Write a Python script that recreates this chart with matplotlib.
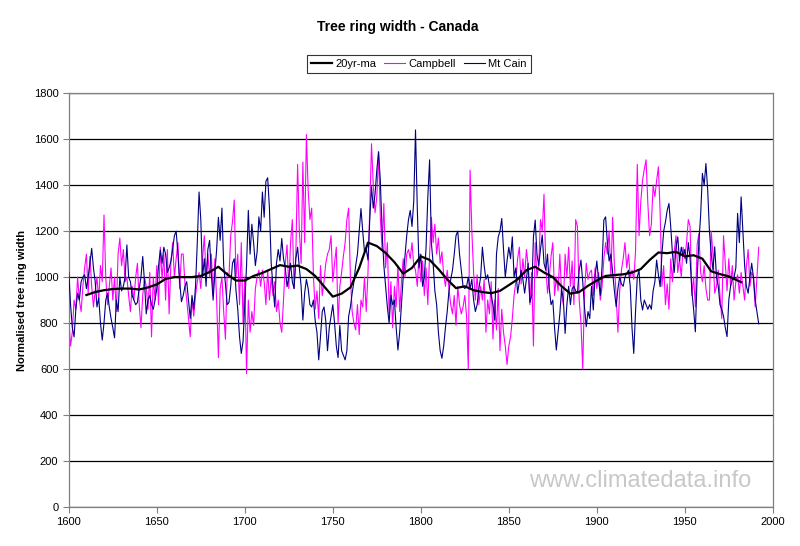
import numpy as np
import matplotlib

matplotlib.use("Agg")
import matplotlib.pyplot as plt

plt.rcParams["font.family"] = ["Liberation Sans", "DejaVu Sans"]

# annual values, 1600-1992
years = np.arange(1600, 1993)

campbell = [
    820, 700, 760, 900, 860, 1000, 900, 850, 960, 1040,
    1100, 930, 1090, 960, 870, 940, 1000, 900, 1050, 980,
    1270, 1000, 880, 960, 1040, 900, 1000, 850, 1100, 1170,
    1050, 1120, 980, 1000, 920, 850, 960, 900, 1000, 1060,
    880, 780, 920, 1000, 960, 860, 1020, 740, 1000, 900,
    1050, 880, 1130, 990, 1100, 900, 1120, 840, 1060, 1150,
    1000, 1080, 1150, 950, 1100, 1100, 970, 900, 820, 740,
    900, 830, 920, 980, 1020, 950, 1080, 1180, 1000, 1100,
    1000, 1100, 920, 1080, 900, 650, 950, 1000, 850, 730,
    1020, 1000, 1180, 1240, 1335, 1000, 1100, 880, 1150, 800,
    1000, 580, 900, 760, 850, 790, 950, 1000, 1030, 960,
    1030, 980, 880, 1030, 900, 1000, 920, 980, 850, 900,
    800, 760, 900, 1060, 1140, 950, 1150, 1250, 950, 1100,
    1490, 1200, 1060, 1500, 1150, 1620, 1380, 1250, 1300, 1000,
    860, 940, 820, 1050, 920, 980, 1060, 1100, 1120, 1180,
    980, 1060, 1130, 800, 960, 1020, 1090, 1150, 1250, 1300,
    1000, 850, 800, 770, 880, 750, 900, 870, 1000, 850,
    1020, 1300, 1580, 1400, 1280, 1350, 1545, 1260, 1120, 1320,
    1040, 1150, 840, 980, 780, 960, 870, 1050, 850, 980,
    1080, 1000, 1100, 1120, 1080, 1150, 1050, 1030, 960, 1100,
    980, 1070, 920, 1040, 880, 1100, 1260, 1150, 1230, 1100,
    1170, 1060, 1110, 1010, 960, 1030, 950, 880, 840, 920,
    790, 960, 880, 840, 870, 920, 830, 600, 1465, 1200,
    1020, 900, 1010, 880, 960, 900, 990, 760, 900, 840,
    980, 730, 900, 770, 950, 680, 860, 760, 700, 620,
    700, 740, 820, 920, 980, 1080, 1130, 970, 1080, 1000,
    1120, 1050, 880, 1020, 700, 1150, 1000, 1050, 1250, 1200,
    1360, 1050, 930, 1000, 1090, 1150, 920, 1000, 940, 1100,
    920, 880, 1100, 1000, 1130, 960, 1070, 880, 1250, 1220,
    900, 800, 600, 930, 1060, 990, 1020, 1030, 920, 1040,
    950, 1020, 900, 960, 1080, 1150, 1100, 1200, 1000, 1260,
    1050, 920, 760, 940, 1030, 1080, 1150, 1040, 1100, 1000,
    1030, 990, 1110, 1490, 1180, 1330, 1420, 1470, 1510, 1320,
    1180, 1230, 1400, 1350, 1420, 1480, 1280, 960, 1050, 880,
    970, 860, 1080, 980, 1110, 1180, 1020, 1080, 1000, 1130,
    1080, 1150, 1250, 1220, 920, 1000, 870, 1140, 1190, 1020,
    980, 1050, 950, 900, 900, 1200, 1100, 930, 960, 1030,
    920, 820, 1180, 1060, 940, 1080, 960, 1050, 900, 980,
    1010, 930, 1020, 960, 900, 1050, 1120, 960, 1020, 1000,
    870, 1000, 1130,
]

mt_cain = [
    1020, 880, 780, 740, 860, 930, 900, 980, 1000, 1010,
    950, 1000, 1060, 1125, 1040, 980, 870, 910, 800, 726,
    800, 900, 930, 870, 820, 780, 736, 900, 850, 1000,
    940, 960, 1000, 1140, 1000, 980, 920, 900, 880, 890,
    950, 1000, 1090, 980, 840, 900, 920, 880, 860, 900,
    950, 1050, 1117, 1060, 1130, 1100, 1020, 1040, 1070, 1120,
    1180, 1200, 1100, 980, 893, 920, 960, 980, 900, 820,
    920, 860, 960, 1150, 1370, 1250, 1000, 1080, 960, 1120,
    1160, 1010, 900, 1020, 1120, 1260, 1160, 1300, 1050, 970,
    880, 890, 960, 1060, 1080, 940, 860, 740, 668, 720,
    880, 1050, 1290, 1100, 1230, 1150, 1050, 1110, 1262, 1200,
    1370, 1260, 1417, 1432, 1300, 1060, 960, 870, 1060, 1120,
    1070, 1168, 1080, 1040, 958, 1000, 1060, 980, 950, 1080,
    1130, 1040, 960, 813, 930, 990, 950, 880, 870, 900,
    810, 760, 640, 740, 850, 870, 810, 680, 780, 830,
    880, 800, 700, 650, 790, 680, 660, 640, 680, 830,
    870, 930, 980, 1050, 1100, 1200, 1298, 1200, 1110, 1120,
    1074, 1250, 1393, 1300, 1360, 1465, 1545, 1420, 1200, 1050,
    960, 870, 800, 920, 880, 900, 780, 683, 760, 880,
    1000, 1090, 1180, 1250, 1290, 1220, 1330, 1640, 1300, 1040,
    1100, 960, 1000, 1130, 1350, 1510, 1150, 1060, 940, 880,
    760, 680, 647, 700, 780, 850, 940, 990, 1030, 1100,
    1180, 1200, 1100, 1030, 960, 950, 960, 1000, 950, 990,
    900, 850, 880, 950, 1000, 1130, 1050, 990, 1010, 960,
    920, 880, 813, 1100, 1175, 1200, 1255, 1120, 1000, 1070,
    1130, 1080, 1175, 1000, 1040, 930, 980, 1030, 990, 930,
    990, 1060, 890, 920, 1175, 1248, 1100, 1050, 1120, 1183,
    1060, 1030, 1100, 950, 880, 900, 780, 683, 760, 840,
    950, 900, 755, 880, 960, 880, 950, 960, 940, 930,
    1030, 1074, 980, 870, 784, 850, 820, 960, 857, 1000,
    1070, 990, 920, 1050, 1248, 1262, 1150, 1070, 1100, 1020,
    940, 871, 950, 1000, 970, 960, 1000, 1016, 1030, 960,
    780, 668, 850, 1000, 1030, 900, 857, 900, 880, 860,
    880, 860, 940, 980, 1074, 1010, 958, 1100, 1200, 1240,
    1290, 1320, 1220, 1100, 1020, 1130, 1175, 1070, 1130, 1090,
    1120, 1060, 1150, 1080, 940, 860, 762, 1000, 1150, 1270,
    1451, 1400, 1494, 1380, 1200, 1100, 1030, 1132, 1000, 960,
    880, 860, 830, 780, 741, 900, 960, 990, 1000, 1040,
    1277, 1150, 1349, 1200, 1050, 960, 930, 1000, 1060, 1000,
    900, 850, 797,
]

# 20 year moving average, read every 5 years
ma_years = sorted(list(range(1610, 1985, 5)) + [1982])
ma_values = [
    922, 935, 943, 948, 950, 950, 946, 955, 968, 992,
    1000, 1000, 1000, 1005, 1022, 1045, 1012, 985, 985, 1005,
    1018, 1035, 1052, 1045, 1050, 1035, 1005, 960, 915, 928,
    955, 1040, 1150, 1135, 1105, 1065, 1015, 1040, 1090, 1075,
    1035, 990, 952, 960, 943, 935, 930, 940, 965, 990,
    1030, 1045, 1020, 1000, 960, 928, 935, 962, 985, 1005,
    1009, 1012, 1020, 1035, 1074, 1107, 1104, 1110, 1090, 1095,
    1080, 1025, 1013, 1003, 985, 978,
]

fig = plt.figure(figsize=(8, 5.46), dpi=100)
fig.patch.set_facecolor("white")
ax = fig.add_axes([0.086, 0.0714, 0.880, 0.758])

ax.plot(years, campbell, color="#ff00ff", lw=0.8, label="Campbell", zorder=2)
ax.plot(years, mt_cain, color="#000080", lw=0.8, label="Mt Cain", zorder=3)
ax.plot(ma_years, ma_values, color="black", lw=1.6, label="20yr-ma", zorder=4)

ax.set_xlim(1600, 2000)
ax.set_ylim(0, 1800)
ax.set_xticks(range(1600, 2001, 50))
ax.set_yticks(range(0, 1801, 200))
ax.yaxis.grid(True, color="black", lw=0.9)
ax.set_axisbelow(True)
ax.tick_params(labelsize=8, length=4, width=0.8, direction="out", color="#808080")
for side in ax.spines.values():
    side.set_color("#808080")
    side.set_linewidth(0.9)

ax.set_ylabel("Normalised tree ring width", fontsize=8, fontweight="bold", labelpad=5)

fig.text(398 / 800, 1 - 27 / 546, "Tree ring width - Canada", ha="center", va="center",
         fontsize=10, fontweight="bold")

handles, labels = ax.get_legend_handles_labels()
order = [2, 0, 1]
leg = fig.legend([handles[i] for i in order], [labels[i] for i in order],
                 loc="center", bbox_to_anchor=(419 / 800, 1 - 64 / 546), ncol=3,
                 fontsize=8, frameon=True, fancybox=False, handlelength=1.9,
                 columnspacing=0.7, handletextpad=0.3, borderpad=0.35,
                 borderaxespad=0)
leg.get_frame().set_edgecolor("black")
leg.get_frame().set_linewidth(0.8)

fig.text(640 / 800, 1 - 481 / 546, "www.climatedata.info", ha="center", va="center",
         fontsize=17, color="#c8c8c8")

fig.savefig("out.png", dpi=100, facecolor="white")
